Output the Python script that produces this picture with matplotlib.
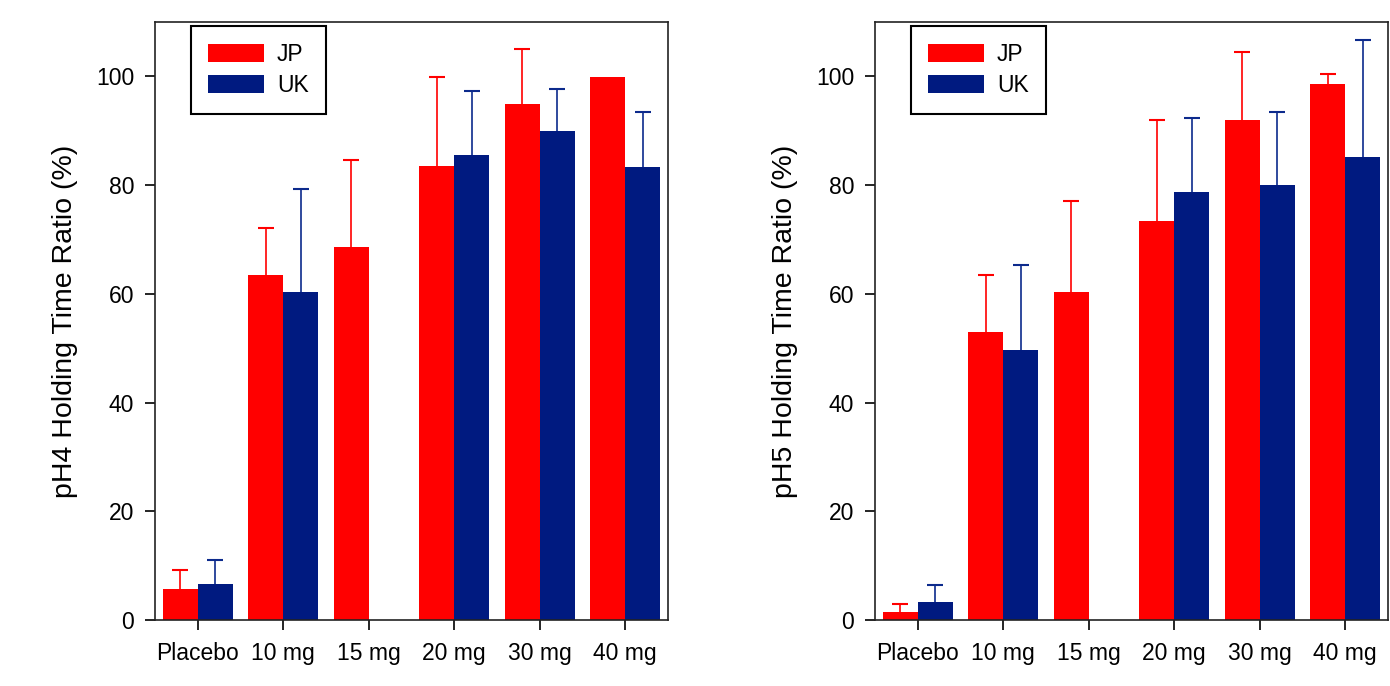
import numpy as np
import matplotlib.pyplot as plt

plt.rcParams['font.family'] = ['Liberation Sans', 'DejaVu Sans']

doses = ["Placebo", "10 mg", "15 mg", "20 mg", "30 mg", "40 mg"]

# pH4 holding time ratio (%), mean and upper error
ph4_jp = [5.7, 63.5, 68.7, 83.5, 94.9, 99.8]
ph4_jp_err = [3.5, 8.6, 15.9, 16.3, 10.2, 0.0]
ph4_uk = [6.6, 60.3, np.nan, 85.5, 90.0, 83.3]
ph4_uk_err = [4.4, 19.0, np.nan, 11.8, 7.7, 10.1]

# pH5 holding time ratio (%), mean and upper error
ph5_jp = [1.5, 52.9, 60.3, 73.4, 91.9, 98.6]
ph5_jp_err = [1.4, 10.6, 16.7, 18.6, 12.5, 1.9]
ph5_uk = [3.3, 49.7, np.nan, 78.8, 80.0, 85.1]
ph5_uk_err = [3.1, 15.6, np.nan, 13.6, 13.5, 21.5]

JP_COLOR = '#ff0000'
UK_COLOR = '#001a80'
BAR_W = 0.41

fig = plt.figure(figsize=(13.9, 6.86), dpi=100)
ax1 = fig.add_axes([155/1390, 66/686, 513/1390, 598/686])
ax2 = fig.add_axes([875/1390, 66/686, 513/1390, 598/686])


def upper_err(ax, x, y, err, color):
    # only the upper half of the error bar, cap on top only
    y = np.asarray(y, dtype=float)
    err = np.asarray(err, dtype=float)
    ok = ~np.isnan(y) & (err > 0)
    line, caps, bars = ax.errorbar(x[ok], y[ok], yerr=[np.zeros(ok.sum()), err[ok]],
                                   fmt='none', ecolor=color, elinewidth=1.2,
                                   capsize=6, capthick=1.5)
    caps[0].set_visible(False)


def draw_panel(ax, jp, jp_err, uk, uk_err, ylabel):
    x = np.arange(len(doses))
    ax.bar(x - BAR_W/2, jp, BAR_W, color=JP_COLOR, label="JP")
    ax.bar(x + BAR_W/2, uk, BAR_W, color=UK_COLOR, label="UK")
    upper_err(ax, x - BAR_W/2, jp, jp_err, JP_COLOR)
    upper_err(ax, x + BAR_W/2, uk, uk_err, '#0c2a8c')
    ax.set_xlim(-0.5, 5.5)
    ax.set_ylim(0, 110)
    ax.set_yticks([0, 20, 40, 60, 80, 100])
    ax.set_xticks(x)
    ax.set_xticklabels(doses)
    ax.tick_params(direction='out', length=7, width=1.2, labelsize=16.5, pad=9)
    ax.tick_params(axis='y', pad=8)
    for s in ax.spines.values():
        s.set_linewidth(1.2)
        s.set_color('#222222')
    ax.set_ylabel(ylabel, fontsize=20.5)
    ax.yaxis.set_label_coords(-0.15, 0.5)
    leg = ax.legend(loc='upper left', bbox_to_anchor=(0.070, 0.994), borderaxespad=0,
                    fontsize=16.5, fancybox=False, edgecolor='black', framealpha=1,
                    handlelength=2.45, handleheight=0.85, handletextpad=0.55,
                    borderpad=0.75, labelspacing=0.36)
    leg.get_frame().set_linewidth(1.5)


draw_panel(ax1, ph4_jp, ph4_jp_err, ph4_uk, ph4_uk_err, "pH4 Holding Time Ratio (%)")
draw_panel(ax2, ph5_jp, ph5_jp_err, ph5_uk, ph5_uk_err, "pH5 Holding Time Ratio (%)")

fig.savefig("out.png", dpi=100)
